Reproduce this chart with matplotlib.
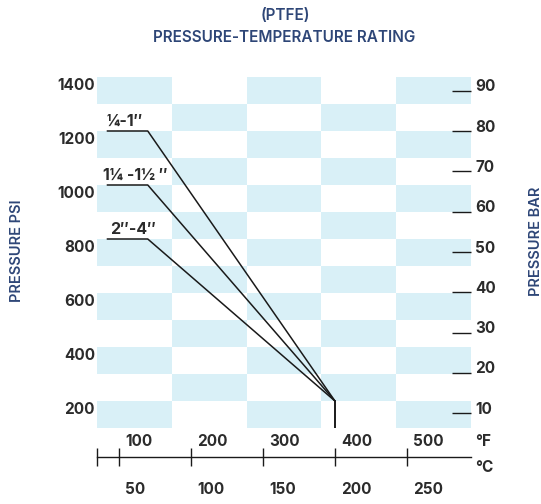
import matplotlib
matplotlib.use("Agg")
import matplotlib.pyplot as plt
from matplotlib.transforms import ScaledTranslation
from matplotlib.patches import Rectangle
import numpy as np

# ---------------- data ----------------
temps_f = [83, 140, 400]
psi_quarter_1 = [1200, 1200, 200]
psi_1q_1h = [1000, 1000, 200]
psi_2_4 = [800, 800, 200]
series_psi = [psi_quarter_1, psi_1q_1h, psi_2_4]
series_labels = ["\u00bc-1\u2033", "1\u00bc -1\u00bd \u2033", "2\u2033-4\u2033"]
end_temps = [400, 400]
end_psi = [200, 100]

psi_ticks = [200, 400, 600, 800, 1000, 1200, 1400]
bar_ticks = [10, 20, 30, 40, 50, 60, 70, 80, 90]
f_ticks = [100, 200, 300, 400, 500]
c_labels = [50, 100, 150, 200, 250]

# ---------------- style ----------------
plt.rcParams["font.family"] = ["Inter", "DejaVu Sans"]
DARK = "#2b2b2b"
NAVY = "#2e4677"
BLUE = "#d9f0f7"

W, H = 541, 504
fig = plt.figure(figsize=(W / 100, H / 100), dpi=100)
L, R, T, B = 97, 471, 77, 428
ax = fig.add_axes([L / W, 1 - B / H, (R - L) / W, (B - T) / H])

xlim = (69.5, 589.0)
ylim = (100, 1400)
ax.set_xlim(*xlim)
ax.set_ylim(*ylim)

# checkerboard
ncol, nrow = 5, 13
xe = np.linspace(xlim[0], xlim[1], ncol + 1)
ye = np.linspace(ylim[1], ylim[0], nrow + 1)
for i in range(nrow):
    for j in range(ncol):
        if (i + j) % 2 == 0:
            ax.add_patch(Rectangle((xe[j], ye[i + 1]), xe[j + 1] - xe[j], ye[i] - ye[i + 1],
                                   facecolor=BLUE, edgecolor="none", zorder=0))

# lines
for psi in series_psi:
    ax.plot(temps_f, psi, color="#1a1a1a", lw=1.1, zorder=3, solid_capstyle="butt")
ax.plot(end_temps, end_psi, color="#1a1a1a", lw=1.4, zorder=3)

label_dx = [0, -4, 3]
for psi, lab, dx in zip(series_psi, series_labels, label_dx):
    ax.annotate(lab, xy=(temps_f[0], psi[0]), xytext=(dx, 2), textcoords="offset pixels",
                ha="left", va="bottom", fontsize=11.5, fontweight="bold", color=DARK)

# spines
for s in ["top", "right", "left"]:
    ax.spines[s].set_visible(False)
ax.spines["bottom"].set_position(("outward", 28.7 * 0.72))
ax.spines["bottom"].set_linewidth(1.0)
ax.spines["bottom"].set_color("#1a1a1a")

# left psi ticks
ax.set_yticks(psi_ticks)
ax.set_yticklabels([str(v) for v in psi_ticks])
ax.tick_params(axis="y", length=0, pad=1.5, labelsize=11, labelcolor=DARK)
for t in ax.get_yticklabels():
    t.set_fontweight("bold")
    t.set_transform(t.get_transform() + ScaledTranslation(0, -7.5 / 100, fig.dpi_scale_trans))

# bottom ticks
ax.set_xticks([xlim[0]] + f_ticks)
ax.set_xticklabels([])
ax.tick_params(axis="x", direction="inout", length=13, width=1.0, color="#1a1a1a")

for f in f_ticks:
    ax.annotate(str(f), xy=(f, 0), xycoords=("data", "axes fraction"), xytext=(6.5, -13.5),
                textcoords="offset pixels", ha="left", va="center", fontsize=11,
                fontweight="bold", color=DARK)
for f, c in zip(f_ticks, c_labels):
    ax.annotate(str(c), xy=(f, 0), xycoords=("data", "axes fraction"), xytext=(6.5, -62),
                textcoords="offset pixels", ha="left", va="center", fontsize=11,
                fontweight="bold", color=DARK)

fig.text(483 / W, 1 - 441 / H, "\u00b0F", ha="center", va="center", fontsize=11,
         fontweight="bold", color=DARK)
fig.text(484 / W, 1 - 468 / H, "\u00b0C", ha="center", va="center", fontsize=11,
         fontweight="bold", color=DARK)

# right bar axis
ax2 = ax.twinx()
ax2.set_ylim(6.36, 93.4)
for s in ax2.spines.values():
    s.set_visible(False)
ax2.set_yticks(bar_ticks)
ax2.set_yticklabels([str(v) for v in bar_ticks])
ax2.tick_params(axis="y", direction="in", length=13.7, width=1.0, color="#1a1a1a",
                pad=3, labelsize=11, labelcolor=DARK)
for t in ax2.get_yticklabels():
    t.set_fontweight("bold")
    t.set_transform(t.get_transform() + ScaledTranslation(0, 5.5 / 100, fig.dpi_scale_trans))

# titles
fig.text(285 / W, 1 - 16 / H, "(PTFE)", ha="center", va="center", fontsize=11,
         fontweight="semibold", color=NAVY)
fig.text(284.5 / W, 1 - 37 / H, "PRESSURE-TEMPERATURE RATING", ha="center", va="center",
         fontsize=11, fontweight="semibold", color=NAVY)
fig.text(17.5 / W, 1 - 251 / H, "PRESSURE PSI", rotation=90, ha="center", va="center",
         fontsize=10.5, fontweight="semibold", color=NAVY)
fig.text(535.5 / W, 1 - 241.5 / H, "PRESSURE BAR", rotation=90, ha="center", va="center",
         fontsize=10.5, fontweight="semibold", color=NAVY)

fig.savefig("out.png", dpi=100)
